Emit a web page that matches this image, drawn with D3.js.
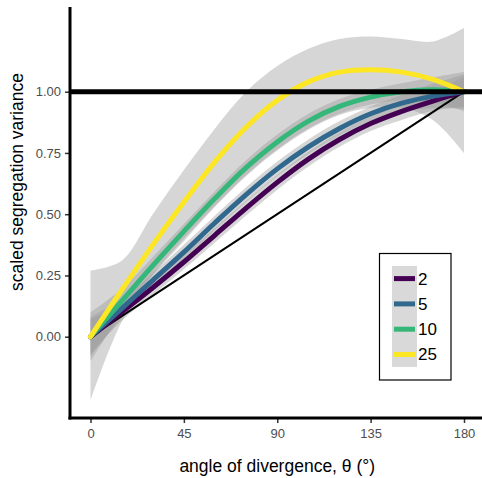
<!DOCTYPE html>
<html>
<head>
<meta charset="utf-8">
<script src="https://cdn.jsdelivr.net/npm/d3@7"></script>
<style>
  body { margin: 0; background: #fff; }
  text { font-family: "Liberation Sans", Arial, sans-serif; }
</style>
</head>
<body>
<svg id="chart" width="482" height="478"></svg>
<script>
// angle of divergence (degrees) at which the smooths were read
var angles = [0, 15, 30, 45, 60, 75, 90, 105, 120, 135, 150, 165, 180];

var groups = ["2", "5", "10", "25"];
var colors = ["#440154", "#31688e", "#35b779", "#fde725"];

// fitted smooth for each group
var fit2  = [0, 0.10, 0.20, 0.305, 0.415, 0.525, 0.63, 0.725, 0.805, 0.87, 0.92, 0.962, 1.0];
var fit5  = [0, 0.115, 0.23, 0.345, 0.465, 0.58, 0.685, 0.775, 0.85, 0.91, 0.953, 0.982, 1.0];
var fit10 = [0, 0.145, 0.29, 0.43, 0.565, 0.69, 0.795, 0.88, 0.94, 0.978, 1.0, 1.008, 1.0];
var fit25 = [0, 0.19, 0.375, 0.55, 0.715, 0.855, 0.965, 1.04, 1.08, 1.09, 1.08, 1.05, 1.0];

// confidence bands
var lo2  = [-0.07, 0.065, 0.17, 0.275, 0.385, 0.495, 0.60, 0.695, 0.775, 0.84, 0.885, 0.922, 0.94];
var hi2  = [0.07, 0.135, 0.23, 0.335, 0.445, 0.555, 0.66, 0.755, 0.835, 0.90, 0.955, 1.002, 1.06];
var lo5  = [-0.08, 0.075, 0.20, 0.315, 0.435, 0.55, 0.655, 0.745, 0.82, 0.88, 0.918, 0.932, 0.93];
var hi5  = [0.08, 0.155, 0.26, 0.375, 0.495, 0.61, 0.715, 0.805, 0.88, 0.94, 0.988, 1.032, 1.07];
var lo10 = [-0.10, 0.095, 0.255, 0.40, 0.535, 0.66, 0.765, 0.85, 0.91, 0.948, 0.965, 0.958, 0.92];
var hi10 = [0.10, 0.195, 0.325, 0.46, 0.595, 0.72, 0.825, 0.91, 0.97, 1.008, 1.035, 1.058, 1.08];
var lo25 = [-0.26, 0.06, 0.25, 0.39, 0.53, 0.655, 0.76, 0.845, 0.905, 0.935, 0.935, 0.885, 0.75];
var hi25 = [0.27, 0.31, 0.50, 0.68, 0.85, 1.00, 1.105, 1.175, 1.215, 1.225, 1.215, 1.205, 1.26];

var xTicks = [0, 45, 90, 135, 180];
var yTicks = [0, 0.25, 0.5, 0.75, 1];

var fits = [fit2, fit5, fit10, fit25];
var lows = [lo2, lo5, lo10, lo25];
var highs = [hi2, hi5, hi10, hi25];

var svg = d3.select("#chart");

var x = d3.scaleLinear().domain([0, 180]).range([90.5, 464]);
var y = d3.scaleLinear().domain([0, 1]).range([336.7, 91.7]);

var axisLeftX = 70, axisBottomY = 418;

// ribbons first
var area = d3.area()
  .x(function(d) { return x(d.a); })
  .y0(function(d) { return y(d.lo); })
  .y1(function(d) { return y(d.hi); })
  .curve(d3.curveCatmullRom);

var ribbonOrder = [3, 2, 1, 0];
ribbonOrder.forEach(function(g) {
  var pts = angles.map(function(a, i) {
    return {a: a, lo: lows[g][i], hi: highs[g][i]};
  });
  svg.append("path")
    .attr("d", area(pts))
    .attr("fill", "#999999")
    .attr("fill-opacity", 0.4);
});

// reference lines
svg.append("line")
  .attr("x1", x(0)).attr("y1", y(0))
  .attr("x2", x(180)).attr("y2", y(1))
  .attr("stroke", "#000").attr("stroke-width", 2);

// smooths
var line = d3.line()
  .x(function(d) { return x(d.a); })
  .y(function(d) { return y(d.v); })
  .curve(d3.curveCatmullRom);

[0, 1, 2, 3].forEach(function(g) {
  var pts = angles.map(function(a, i) { return {a: a, v: fits[g][i]}; });
  svg.append("path")
    .attr("d", line(pts))
    .attr("fill", "none")
    .attr("stroke", colors[g])
    .attr("stroke-width", 5)
    .attr("stroke-linecap", "round");
});

svg.append("line")
  .attr("x1", axisLeftX).attr("y1", y(1))
  .attr("x2", 482).attr("y2", y(1))
  .attr("stroke", "#000").attr("stroke-width", 5);

// axes
var xAxis = d3.axisBottom(x).tickValues(xTicks).tickSize(5).tickPadding(6);
var gx = svg.append("g")
  .attr("transform", "translate(0," + axisBottomY + ")")
  .call(xAxis);
gx.select(".domain").remove();
gx.selectAll(".tick line").attr("stroke", "#333").attr("stroke-width", 1.5);
gx.selectAll(".tick text").attr("fill", "#4d4d4d").style("font-size", "13px");

var yAxis = d3.axisLeft(y).tickValues(yTicks).tickSize(5).tickPadding(4)
  .tickFormat(d3.format(".2f"));
var gy = svg.append("g")
  .attr("transform", "translate(" + axisLeftX + ",0)")
  .call(yAxis);
gy.select(".domain").remove();
gy.selectAll(".tick line").attr("stroke", "#333").attr("stroke-width", 1.5);
gy.selectAll(".tick text").attr("fill", "#4d4d4d").style("font-size", "13px");

svg.append("line")
  .attr("x1", axisLeftX).attr("y1", 7)
  .attr("x2", axisLeftX).attr("y2", axisBottomY + 1.5)
  .attr("stroke", "#000").attr("stroke-width", 3);
svg.append("line")
  .attr("x1", axisLeftX - 1.5).attr("y1", axisBottomY)
  .attr("x2", 482).attr("y2", axisBottomY)
  .attr("stroke", "#000").attr("stroke-width", 3);

// axis titles
svg.append("text")
  .attr("x", x(90)).attr("y", 472)
  .attr("text-anchor", "middle")
  .style("font-size", "17.5px")
  .text("angle of divergence, θ (°)");

svg.append("text")
  .attr("transform", "translate(23,182) rotate(-90)")
  .attr("text-anchor", "middle")
  .style("font-size", "17.5px")
  .text("scaled segregation variance");

// legend
var lg = svg.append("g").attr("transform", "translate(379.5,253.5)");
lg.append("rect")
  .attr("width", 71.5).attr("height", 126.5)
  .attr("fill", "#fff").attr("stroke", "#000").attr("stroke-width", 1.2);
lg.append("rect")
  .attr("x", 12.5).attr("y", 12.5).attr("width", 25).attr("height", 101)
  .attr("fill", "#d9d9d9");
groups.forEach(function(name, i) {
  var cy = 12.5 + 12.6 + i * 25.3;
  lg.append("line")
    .attr("x1", 14.5).attr("x2", 35.5)
    .attr("y1", cy).attr("y2", cy)
    .attr("stroke", colors[i]).attr("stroke-width", 5);
  lg.append("text")
    .attr("x", 38.5).attr("y", cy)
    .attr("dy", "0.35em")
    .style("font-size", "17px")
    .text(name);
});
</script>
</body>
</html>
